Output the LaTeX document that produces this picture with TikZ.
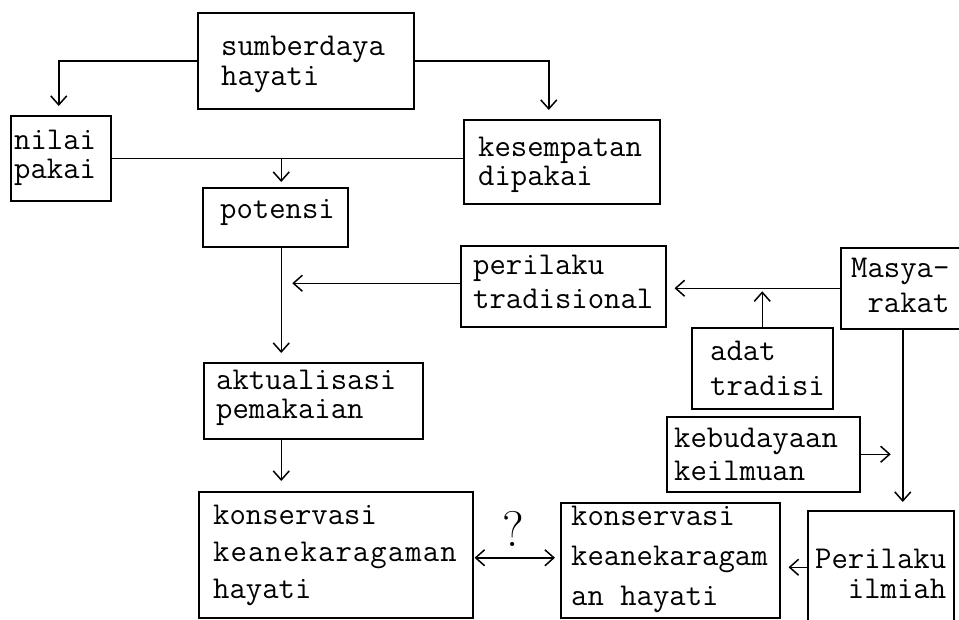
\documentclass[tikz,border=0pt]{standalone}
\usepackage{fontspec}
\usetikzlibrary{arrows.meta}
\newcommand\tlines[2]{\vtop{\baselineskip=#1pt\lineskiplimit=-50pt\lineskip=0pt #2}}
\newcommand\mkbox[5]{\node[box, minimum width={#4-#2}, minimum height={#5-#3}] (#1) at (#2,#3) {};}
\def\lsp#1{\lspA#1\relax}
\def\lspA#1{\ifx#1\relax\else#1\kern1.1pt\expandafter\lspA\fi}
\begin{document}
\begin{tikzpicture}[x=1pt,y=-1pt,
  box/.style={draw, line width=1.5pt, inner sep=0pt, anchor=north west},
  txt/.style={anchor=base west, inner sep=0pt, font=\ttfamily\fontsize{31.8}{34}\selectfont},
  conn/.style={line width=1.5pt},
  arr/.style={conn, -{Straight Barb[length=9pt,width=16pt,line width=1.5pt]}},
  arrtwo/.style={conn, {Straight Barb[length=9pt,width=16pt,line width=1.5pt]}-{Straight Barb[length=9pt,width=16pt,line width=1.5pt]}}]
\useasboundingbox (0,0) rectangle (959,619);
% boxes
\mkbox{sd}{197}{12}{413}{108}
\mkbox{nl}{10}{115}{110}{200}
\mkbox{ks}{463}{119}{659}{203}
\mkbox{pt}{202}{187}{347}{246}
\mkbox{pr}{460}{245}{665}{326}
\mkbox{ms}{840}{247}{962}{328}
\mkbox{ad}{691}{327}{832}{408}
\mkbox{kb}{666}{416}{859}{491}
\mkbox{ak}{203}{362}{422}{438}
\mkbox{kl}{198}{491}{472}{617}
\mkbox{km}{560}{502}{779}{617}
\mkbox{pi}{807}{510}{953}{623}
% texts
\node[txt] (sdt) at (221,55) {\tlines{30}{\hbox{sumberdaya}\hbox{hayati}}};
\node[txt] (nlt) at (14,149) {\tlines{29}{\hbox{nilai}\hbox{pakai}}};
\node[txt] (kst) at (478,156) {\tlines{29}{\hbox{kesempatan}\hbox{dipakai}}};
\node[txt] (ptt) at (220,218) {potensi};
\node[txt] (prt) at (473,274) {\tlines{34}{\hbox{perilaku}\hbox{tradisional}}};
\node[txt] (mst) at (851,277) {\tlines{35}{\hbox{Masya-}\hbox{\hphantom{x}rakat}}};
\node[txt] (adt) at (710,360) {\tlines{35}{\hbox{adat}\hbox{tradisi}}};
\node[txt] (kbt) at (674,447) {\tlines{33}{\hbox{kebudayaan}\hbox{keilmuan}}};
\node[txt] (akt) at (216,389) {\tlines{29}{\hbox{aktualisasi}\hbox{pemakaian}}};
\node[txt] (klt) at (213,524) {\tlines{37}{\hbox{konservasi}\hbox{\lsp{keanekaragaman}}\hbox{hayati}}};
\node[txt] (kmt) at (571,525) {\tlines{40}{\hbox{konservasi}\hbox{keanekaragam}\hbox{an hayati}}};
\node[txt] (pit) at (815,568) {\tlines{30}{\hbox{Perilaku}\hbox{\hphantom{xx}ilmiah}}};
\node[font=\fontsize{50}{52}\selectfont, inner sep=0pt] (q) at (513,529) {?};
% connectors
\coordinate (prw) at ([yshift=3pt]pr.west);
\coordinate (klx) at ([yshift=-3pt]kl.east);
\draw[arr, shorten >=9pt] (sd.west) -| ([xshift=-2pt]nl.north);
\draw[arr, shorten >=9pt] (sd.east) -| ([xshift=-13pt]ks.north);
\draw[conn] (nl.east) -- (nl.east -| ks.west);
\draw[arr, shorten >=5pt] ([xshift=6pt]pt.north |- nl.east) -- ([xshift=6pt]pt.north);
\draw[arr, shorten >=9pt] ([xshift=6pt]pt.south) -- ([xshift=6pt]pt.south |- ak.north);
\draw[arr] (prw) -- ([xshift=17pt]pt.south |- prw);
\draw[arr, shorten >=8pt] (ms.west) -- (ms.west -| pr.east);
\draw[arr, shorten >=3pt] (ad.north) -- (ad.north |- ms.west);
\draw[arr, shorten >=8pt] ([xshift=1pt]ms.south) -- ([xshift=1pt]ms.south |- pi.north);
\draw[arr] (kb.east) -- ([xshift=-11pt]ms.south |- kb.east);
\draw[arr, shorten >=10pt] ([xshift=6pt]pt.south |- ak.south) -- ([xshift=6pt]pt.south |- kl.north);
\draw[arrtwo, shorten <=1pt, shorten >=5pt] (klx) -- (klx -| km.west);
\draw[arr, shorten >=8pt] (pi.west) -- (pi.west -| km.east);
\end{tikzpicture}
\end{document}
